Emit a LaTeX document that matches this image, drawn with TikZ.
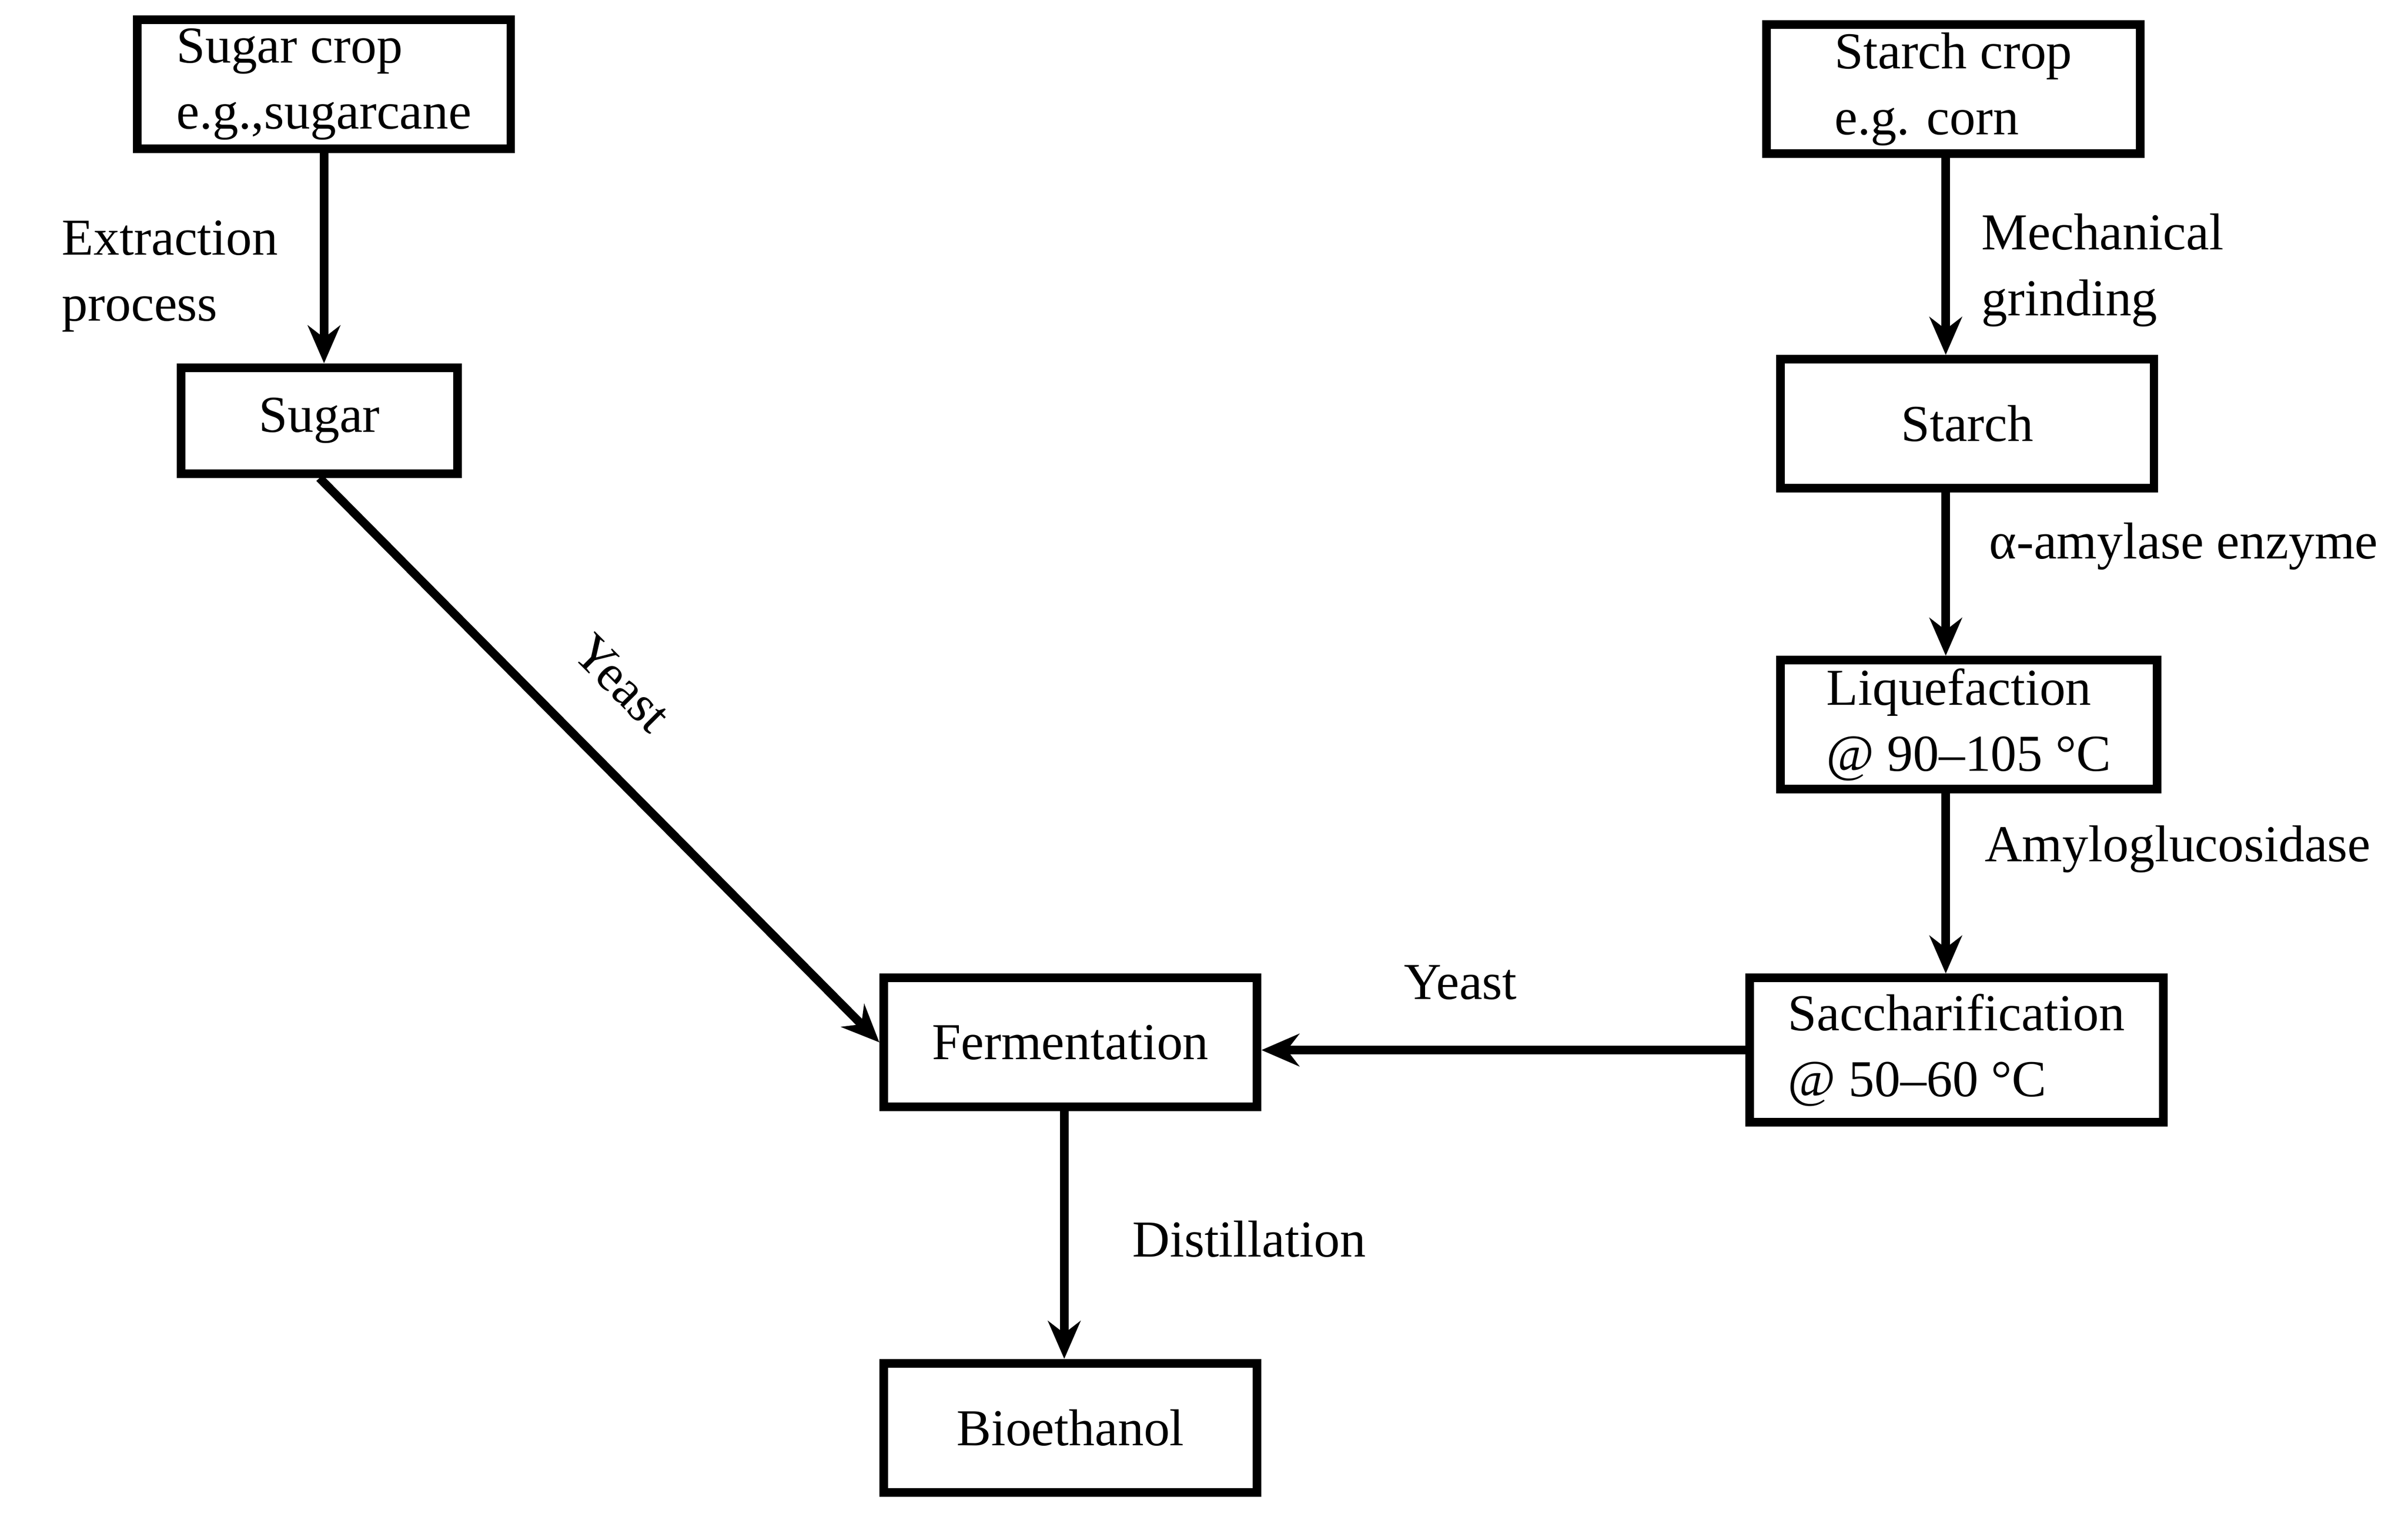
\documentclass[tikz,border=0pt]{standalone}
\usepackage{fontspec}
\setmainfont{Liberation Serif}
\usetikzlibrary{arrows.meta}
\begin{document}
\begin{tikzpicture}[x=0.01cm,y=-0.01cm,
  box/.style={draw,line width=1.6pt,minimum width=#1,minimum height=0.84cm,inner sep=1pt,align=left,font=\fontsize{9.6}{12.2}\selectfont},
  box/.default=2.43cm,
  lbl/.style={font=\fontsize{9.6}{12.2}\selectfont,align=left,anchor=west},
  arr/.style={line width=1.6pt,-{Stealth[length=7pt,width=6pt]}}]
\useasboundingbox (0,0) rectangle (1568,988);
\node[box] (sc) at (211,55) {Sugar crop\\e.g.,sugarcane};
\node[box=1.8cm,minimum height=0.69cm] (s) at (208,274) {Sugar};
\node[box] (stc) at (1272,58) {Starch crop\\e.g. corn};
\node[box] (st) at (1281,276) {Starch};
\node[box=2.45cm] (l) at (1282,472) {Liquefaction\\@ 90--105 °C};
\node[box=2.69cm,minimum height=0.94cm] (sa) at (1274,684) {Saccharification\\@ 50--60 °C};
\node[box] (f) at (697,679) {Fermentation};
\node[box] (b) at (697,930) {Bioethanol};
\draw[arr] (sc.south -| 211,0) -- (s.north -| 211,0);
\draw[arr] (s.south) -- (f.west);
\draw[arr] (stc.south -| 1267,0) -- (st.north -| 1267,0);
\draw[arr] (st.south -| 1267,0) -- (l.north -| 1267,0);
\draw[arr] (l.south -| 1267,0) -- (sa.north -| 1267,0);
\draw[arr] (sa.west) -- (f.east |- sa.west);
\draw[arr] (f.south -| 693,0) -- (b.north -| 693,0);
\node[lbl] (t1) at (28,180) {Extraction\\process};
\node[lbl] (t2) at (1278,176) {Mechanical\\grinding};
\node[lbl] (t3) at (1283,356) {α-amylase enzyme};
\node[lbl] (t4) at (1280,553) {Amyloglucosidase};
\node[font=\fontsize{9.6}{12.2}\selectfont] (t5) at (951,640) {Yeast};
\node[font=\fontsize{9.6}{12.2}\selectfont,rotate=-45,inner sep=0pt] (t6) at (405,445) {Yeast};
\node[lbl] (t7) at (725,807) {Distillation};
\end{tikzpicture}
\end{document}
